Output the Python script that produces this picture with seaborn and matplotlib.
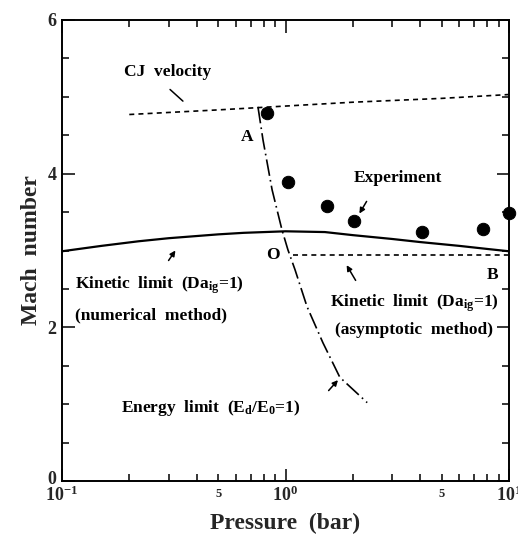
"""
Detonation limits: Mach number vs initial pressure.
"""

import matplotlib
matplotlib.use("Agg")
import matplotlib.pyplot as plt
import matplotlib.ticker as mticker
import matplotlib.transforms as mtransforms
import pandas as pd
import seaborn as sns

# CJ velocity (dotted)
cj_pressure = [0.2, 0.5, 1.0, 2.0, 5.0, 10.0]
cj_mach = [4.77, 4.83, 4.88, 4.93, 4.98, 5.03]

# kinetic limit, numerical method (solid)
num_pressure = [0.1, 0.15, 0.22, 0.3, 0.5, 0.65, 1.0, 1.5, 2.0, 3.0, 4.0, 6.0, 8.0, 10.0]
num_mach = [2.99, 3.06, 3.12, 3.16, 3.21, 3.23, 3.25, 3.24, 3.20, 3.15, 3.11, 3.06, 3.02, 2.99]

# kinetic limit, asymptotic method (dashed)
asym_pressure = [1.08, 10.0]
asym_mach = [2.94, 2.94]

# energy limit (long dash-dot)
energy_pressure = [0.753, 0.793, 0.871, 0.964, 1.025, 1.103, 1.248, 1.47, 1.75, 2.32]
energy_mach = [4.87, 4.44, 3.79, 3.27, 3.01, 2.75, 2.27, 1.80, 1.35, 1.02]

# experiment (filled circles)
exp_pressure = [0.826, 1.03, 1.53, 2.02, 4.08, 7.66, 10.0]
exp_mach = [4.79, 3.89, 3.58, 3.39, 3.24, 3.28, 3.49]

sns.set_style("ticks")
plt.rcParams["font.family"] = ["Liberation Serif", "DejaVu Serif"]
plt.rcParams["font.weight"] = "bold"
plt.rcParams["mathtext.fontset"] = "custom"
plt.rcParams["mathtext.rm"] = "Liberation Serif:bold"
plt.rcParams["mathtext.bf"] = "Liberation Serif:bold"
plt.rcParams["mathtext.it"] = "Liberation Serif:bold"
plt.rcParams["mathtext.default"] = "bf"

fig = plt.figure(figsize=(5.18, 5.36), dpi=100)
ax = fig.add_axes([62 / 518, 1 - 481 / 536, 447 / 518, 461 / 536])
ax.set_xscale("log")

cj = pd.DataFrame({"p": cj_pressure, "M": cj_mach})
num = pd.DataFrame({"p": num_pressure, "M": num_mach})
asym = pd.DataFrame({"p": asym_pressure, "M": asym_mach})
energy = pd.DataFrame({"p": energy_pressure, "M": energy_mach})
exp = pd.DataFrame({"p": exp_pressure, "M": exp_mach})

sns.lineplot(data=cj, x="p", y="M", ax=ax, color="black", lw=1.2,
             linestyle=(0, (3, 2.5)), estimator=None)
sns.lineplot(data=num, x="p", y="M", ax=ax, color="black", lw=1.6, estimator=None)
sns.lineplot(data=asym, x="p", y="M", ax=ax, color="black", lw=1.2,
             linestyle=(0, (3, 2.5)), estimator=None)
sns.lineplot(data=energy, x="p", y="M", ax=ax, color="black", lw=1.2,
             linestyle=(0, (10, 2.5, 1, 2.5)), estimator=None, sort=False)
sns.scatterplot(data=exp, x="p", y="M", ax=ax, color="black", s=80,
                edgecolor="black", clip_on=False, zorder=5)

ax.set_xlim(0.1, 10)
ax.set_ylim(0, 6)

# ticks
ax.xaxis.set_major_locator(mticker.FixedLocator([0.1, 1, 10]))
ax.xaxis.set_major_formatter(mticker.FixedFormatter(["10$^{-1}$", "10$^{0}$", "10$^{1}$"]))
minor_x = [0.2, 0.3, 0.4, 0.5, 0.6, 0.7, 0.8, 0.9, 2, 3, 4, 5, 6, 7, 8, 9]
ax.xaxis.set_minor_locator(mticker.FixedLocator(minor_x))
ax.xaxis.set_minor_formatter(mticker.FuncFormatter(lambda v, pos: "5" if v in (0.5, 5) else ""))
ax.yaxis.set_major_locator(mticker.FixedLocator([0, 2, 4, 6]))
ax.yaxis.set_minor_locator(mticker.MultipleLocator(0.5))

ax.tick_params(which="both", direction="in", top=True, right=True, width=1.1, color="black")
ax.tick_params(which="major", length=9)
ax.tick_params(which="minor", length=5)
ax.tick_params(axis="x", which="major", labelsize=13, pad=3)
ax.tick_params(axis="x", which="minor", labelsize=9, pad=5)
ax.tick_params(axis="y", which="major", labelsize=13, pad=4)
for spine in ax.spines.values():
    spine.set_linewidth(1.4)
    spine.set_color("black")

# lift the "0" a little so it sits above the 10^-1 label
zero_lbl = ax.yaxis.get_major_ticks()[0].label1
zero_lbl.set_transform(zero_lbl.get_transform()
                       + mtransforms.ScaledTranslation(0, 4 / 100, fig.dpi_scale_trans))

ax.set_xlabel("Pressure  (bar)", fontsize=17, fontweight="bold", labelpad=6)
ax.set_ylabel("Mach  number", fontsize=17, fontweight="bold", labelpad=4)

# annotations
txt = dict(fontsize=12.5, fontweight="bold", color="black")
line = dict(arrowstyle="-", color="black", lw=1.1)
head = dict(arrowstyle="-|>", color="black", lw=1.1, mutation_scale=8)

ax.text(0.298, 5.32, "CJ  velocity", ha="center", va="center", **txt)
ax.annotate("", xy=(0.355, 4.92), xytext=(0.298, 5.12), arrowprops=line)
ax.text(0.673, 4.48, "A", ha="center", va="center", **txt)
ax.text(3.18, 3.95, "Experiment", ha="center", va="center", **txt)
ax.annotate("", xy=(2.11, 3.45), xytext=(2.34, 3.67), arrowprops=head)
ax.text(0.879, 2.94, "O", ha="center", va="center", **txt)
ax.text(8.48, 2.68, "B", ha="center", va="center", **txt)

ax.text(0.114, 2.55, "Kinetic  limit  (Da$_{ig}$=1)", ha="left", va="center", **txt)
ax.text(0.114, 2.16, "(numerical  method)", ha="left", va="center", **txt)
ax.annotate("", xy=(0.327, 3.03), xytext=(0.295, 2.84), arrowprops=head)

ax.text(3.79, 2.32, "Kinetic  limit  (Da$_{ig}$=1)", ha="center", va="center", **txt)
ax.text(3.75, 1.97, "(asymptotic  method)", ha="center", va="center", **txt)
ax.annotate("", xy=(1.85, 2.84), xytext=(2.09, 2.58), arrowprops=head)

ax.text(0.464, 0.95, "Energy  limit  (E$_d$/E$_0$=1)", ha="center", va="center", **txt)
ax.annotate("", xy=(1.75, 1.34), xytext=(1.53, 1.15), arrowprops=head)

plt.savefig("out.png", dpi=100)
plt.close()
